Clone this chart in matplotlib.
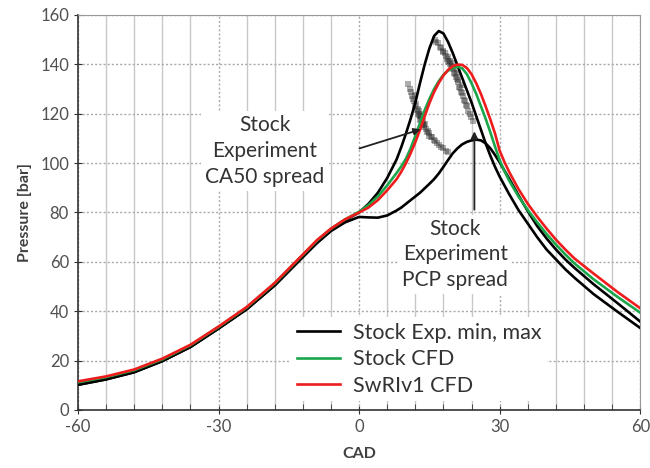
import matplotlib.pyplot as plt
from matplotlib.ticker import MultipleLocator

plt.rcParams['font.family'] = ['Lato', 'DejaVu Sans']
plt.rcParams['axes.unicode_minus'] = False

# crank angle grid shared by all four traces
cad = [-60, -54, -48, -42, -36, -30, -24, -18, -12, -9, -6, -3, 0, 2, 4, 6, 8, 9, 10,
       11, 12, 13, 14, 15, 16, 17, 18, 19, 20, 21, 22, 23, 24, 25, 26, 27, 28, 29, 30,
       31, 32, 34, 36, 38, 40, 42, 44, 46, 50, 55, 60]

p_exp_max = [10.2, 12.4, 15.3, 19.8, 25.5, 33.0, 40.8, 50.5, 62.0, 67.8, 72.8, 76.8, 80.0,
             83.5, 88.0, 94.0, 101.5, 106.5, 112.0, 118.0, 124.5, 132.5, 140.0, 146.5,
             151.5, 153.5, 152.5, 149.0, 144.5, 139.5, 134.5, 129.5, 124.5, 119.0, 113.5,
             108.0, 103.0, 98.5, 94.5, 91.0, 87.5, 81.0, 75.5, 70.0, 65.0, 61.0, 57.0,
             53.5, 47.0, 40.0, 33.2]

p_exp_min = [10.2, 12.4, 15.3, 19.8, 25.5, 33.0, 40.8, 50.5, 62.0, 67.6, 72.5, 76.0, 78.2,
             78.0, 77.9, 78.8, 80.8, 82.0, 83.5, 85.0, 86.5, 88.0, 89.8, 91.6, 93.5, 95.8,
             98.5, 101.3, 104.0, 106.0, 107.6, 108.6, 109.2, 109.5, 109.2, 108.0, 106.0,
             103.3, 100.3, 97.0, 93.8, 87.0, 80.5, 74.5, 69.5, 65.0, 61.0, 57.5, 51.0,
             43.5, 35.8]

p_stock_cfd = [11.2, 13.3, 16.1, 20.5, 26.2, 33.6, 41.5, 51.3, 62.8, 68.6, 73.4, 77.2, 80.3,
               83.0, 86.5, 91.0, 96.0, 98.7, 101.8, 106.0, 111.0, 116.3, 121.5, 126.0,
               130.0, 133.2, 135.8, 137.5, 138.6, 139.0, 138.4, 136.0, 132.3, 128.0, 123.0,
               118.0, 112.5, 106.7, 101.2, 96.8, 93.0, 86.5, 81.0, 76.0, 71.3, 67.0, 63.0,
               59.3, 53.0, 46.0, 39.4]

p_swri_cfd = [11.6, 13.6, 16.4, 20.8, 26.4, 33.8, 41.7, 51.5, 63.0, 68.8, 73.5, 77.2, 80.0,
              82.0, 85.0, 89.0, 93.5, 96.5, 100.0, 104.0, 108.5, 113.5, 119.0, 124.3,
              128.8, 132.5, 135.5, 137.8, 139.3, 139.9, 139.8, 138.5, 136.0, 132.3, 128.0,
              123.0, 117.7, 112.0, 105.0, 100.5, 96.5, 89.5, 83.5, 78.3, 73.5, 69.0, 65.0,
              61.3, 55.3, 48.0, 41.2]

# experimental cycle-to-cycle spread (CA50 and peak pressure locations)
ca50_cad = [10.5, 10.8, 11.0, 11.3, 11.6, 11.8, 12.0, 12.2, 12.3, 12.5, 12.6, 12.8, 12.9,
            13.0, 13.1, 13.3, 13.4, 13.5, 13.6, 13.8, 13.9, 14.0, 14.2, 14.4, 14.6, 14.9,
            15.0, 15.3, 15.5, 15.9, 16.2, 16.6, 17.0, 17.5, 18.0, 18.5, 19.0, 11.9, 12.7,
            13.2, 13.7]
ca50_p = [132.0, 130.0, 129.0, 127.0, 126.0, 125.0, 123.0, 124.0, 121.5, 122.0, 120.0,
          121.0, 119.0, 117.5, 118.0, 119.0, 117.0, 115.5, 116.0, 114.5, 115.5, 116.0,
          114.0, 112.5, 113.0, 111.0, 112.0, 110.5, 110.5, 109.5, 109.0, 108.0, 107.5,
          106.5, 106.0, 105.0, 104.5, 127.5, 119.5, 120.0, 117.0]
pcp_cad = [16.2, 16.5, 16.8, 17.2, 17.5, 17.8, 18.0, 18.3, 18.5, 18.8, 19.0, 19.2, 19.4,
           19.5, 19.6, 19.8, 20.0, 20.2, 20.3, 20.5, 20.6, 20.8, 21.0, 21.2, 21.4, 21.6,
           21.8, 22.0, 22.2, 22.4, 22.6, 22.8, 23.0, 23.3, 23.6, 23.9, 24.2, 18.9, 19.9,
           20.9, 21.9]
pcp_p = [150.0, 149.0, 148.5, 147.0, 146.5, 145.5, 145.0, 144.5, 143.5, 142.0, 141.5,
         141.0, 141.5, 140.0, 139.5, 139.0, 138.0, 138.5, 136.5, 136.0, 135.0, 134.0,
         133.0, 133.5, 131.0, 130.5, 129.0, 128.5, 127.0, 125.5, 125.0, 123.5, 123.0,
         121.0, 120.0, 118.5, 117.0, 143.0, 140.5, 136.5, 131.5]

fig = plt.figure(figsize=(6.5, 4.68), dpi=100)
ax = fig.add_axes([0.12, 0.124, 0.865, 0.844])

ax.scatter(ca50_cad, ca50_p, marker='s', s=18, color='#333333', alpha=0.4, linewidths=0, zorder=3)
ax.scatter(pcp_cad, pcp_p, marker='s', s=18, color='#333333', alpha=0.4, linewidths=0, zorder=3)

ax.plot(cad, p_exp_max, color='black', lw=1.9, zorder=4, label='Stock Exp. min, max')
ax.plot(cad, p_exp_min, color='black', lw=1.9, zorder=4)
ax.plot(cad, p_stock_cfd, color='#1aa64a', lw=1.9, zorder=4, label='Stock CFD')
ax.plot(cad, p_swri_cfd, color='#ee1c1c', lw=1.9, zorder=4, label='SwRIv1 CFD')

ax.set_xlim(-60, 60)
ax.set_ylim(0, 160)
ax.xaxis.set_major_locator(MultipleLocator(30))
ax.xaxis.set_minor_locator(MultipleLocator(6))
ax.yaxis.set_major_locator(MultipleLocator(20))

ax.grid(which='minor', axis='x', color='#c8c8c8', lw=1.0, zorder=0)
ax.grid(which='major', axis='x', color='#aaaaaa', lw=1.0, ls=(0, (1.5, 1.5)), zorder=0)
ax.grid(which='major', axis='y', color='#aaaaaa', lw=1.0, ls=(0, (1.5, 1.5)), zorder=0)
ax.set_axisbelow(True)

for side in ['top', 'right']:
    ax.spines[side].set_color('#999999')
for side in ['left', 'bottom']:
    ax.spines[side].set_color('#333333')
    ax.spines[side].set_linewidth(1.2)

ax.tick_params(which='major', direction='inout', length=6, color='#333333',
               labelsize=12, labelcolor='#505050')
ax.tick_params(which='minor', axis='x', direction='in', length=4, color='#333333')

ax.set_xlabel('CAD', fontsize=11.5, fontweight='bold', color='#404040', labelpad=9)
ax.set_ylabel('Pressure [bar]', fontsize=11.5, fontweight='bold', color='#404040', labelpad=6)

box = dict(facecolor='white', edgecolor='none', pad=3)
ax.text(-20.1, 104.9, 'Stock\nExperiment\nCA50 spread', ha='center', va='center',
        fontsize=15, color='#333333', linespacing=1.35, bbox=box, zorder=2)
ax.text(20.5, 63.0, 'Stock\nExperiment\nPCP spread', ha='center', va='center',
        fontsize=15, color='#333333', linespacing=1.35, bbox=box, zorder=2)

arrow = dict(arrowstyle='-|>', color='#222222', lw=1.3, mutation_scale=10)
ax.annotate('', xy=(13.7, 114), xytext=(-0.5, 105.6), arrowprops=arrow, zorder=5)
ax.annotate('', xy=(24.6, 114), xytext=(24.6, 80), arrowprops=arrow, zorder=5)

leg = ax.legend(loc='lower left', bbox_to_anchor=(0.36, -0.005), fontsize=15.5, frameon=True,
                framealpha=1, edgecolor='none', handlelength=2.0, handletextpad=0.6,
                labelspacing=0.3, borderpad=0.25, labelcolor='#333333')
leg.set_zorder(6)

fig.savefig('out.png', dpi=100)
